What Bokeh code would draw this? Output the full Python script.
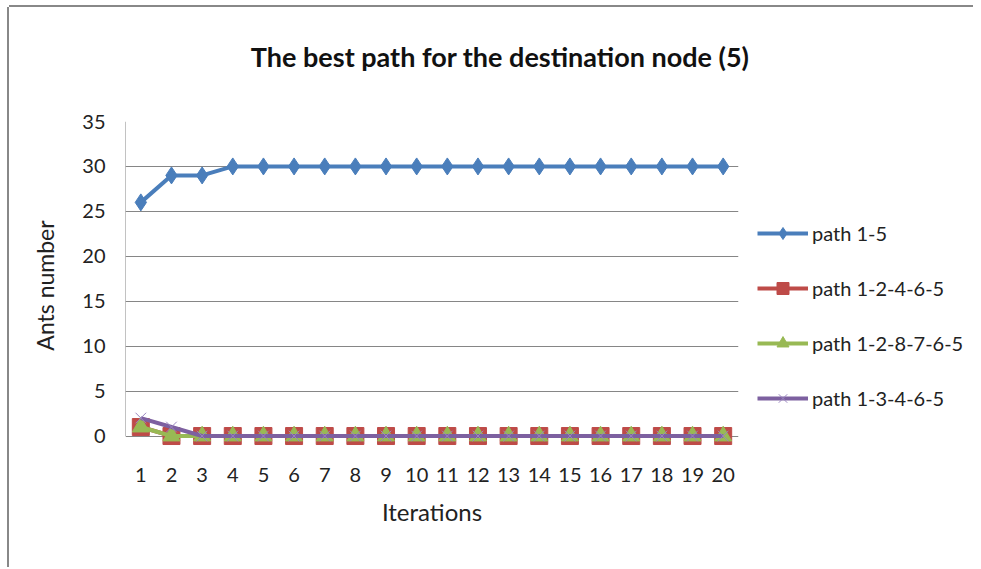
from bokeh.plotting import figure
from bokeh.layouts import column, row
from bokeh.models import FactorRange, Range1d, Legend, LegendItem, FixedTicker, Label
from bokeh.embed import file_html
from bokeh.resources import INLINE

iterations = [str(i) for i in range(1, 21)]
path_1_5 = [26, 29, 29] + [30] * 17
path_1_2_4_6_5 = [1] + [0] * 19
path_1_2_8_7_6_5 = [1] + [0] * 19
path_1_3_4_6_5 = [2, 1] + [0] * 18
series_names = ["path 1-5", "path 1-2-4-6-5", "path 1-2-8-7-6-5", "path 1-3-4-6-5"]
y_ticks = [0, 5, 10, 15, 20, 25, 30, 35]
title_text = "The  best path for the destination node (5)"

FONT = "Lato"
TITLE_H = 81
CHART_W, CHART_H = 744, 479
LEG_W = 220

colors = ["#4A7EBB", "#BE4B48", "#98B954", "#7D60A0"]
data = [path_1_5, path_1_2_4_6_5, path_1_2_8_7_6_5, path_1_3_4_6_5]
markers = ["diamond", "square", "triangle", "x"]
sizes = [17, 17, 17, 15]

# ---- title strip
tf = figure(width=CHART_W + LEG_W, height=TITLE_H, output_backend="svg", toolbar_location=None,
            x_axis_location=None, y_axis_location=None,
            x_range=Range1d(0, 1), y_range=Range1d(0, 1),
            min_border=0, min_border_left=0, min_border_right=0, min_border_top=0, min_border_bottom=0)
tf.outline_line_color = None
tf.grid.grid_line_color = None
tf.add_layout(Label(x=494, y=32, x_units="screen", y_units="screen",
                    text=title_text, text_align="center", text_baseline="middle",
                    text_font=FONT, text_font_size="27px", text_font_style="bold",
                    text_color="#111111"))

# ---- chart
p = figure(width=CHART_W, height=CHART_H, output_backend="svg", toolbar_location=None,
           x_range=FactorRange(factors=iterations, range_padding=0),
           y_range=Range1d(-1.5, 35),
           min_border_left=116, min_border_right=15, min_border_top=33, min_border_bottom=118)
p.outline_line_color = None
p.xgrid.grid_line_color = None
p.ygrid.grid_line_color = "#868686"
p.ygrid.grid_line_width = 1
p.yaxis.ticker = FixedTicker(ticks=y_ticks)

for ax in (p.xaxis[0], p.yaxis[0]):
    ax.major_tick_line_color = None
    ax.minor_tick_line_color = None
    ax.axis_line_color = None
    ax.major_label_text_font = FONT
    ax.major_label_text_font_size = "20px"
    ax.major_label_text_color = "#222222"
    ax.axis_label_text_font = FONT
    ax.axis_label_text_font_size = "24px"
    ax.axis_label_text_font_style = "normal"
    ax.axis_label_text_color = "#222222"
p.yaxis.axis_label_text_font_size = "23px"

p.yaxis.major_label_standoff = 14
p.xaxis.major_label_standoff = 12
p.xaxis.axis_label = "Iterations"
p.yaxis.axis_label = "Ants number"
p.xaxis.axis_label_standoff = 12
p.yaxis.axis_label_standoff = 20

# left axis line from 0 to the top of the scale
p.segment(x0=[0], y0=[0], x1=[0], y1=[y_ticks[-1]], line_color="#868686", line_width=1)

def draw(fig, ys, c, m, s):
    ln = fig.line(iterations, ys, line_color=c, line_width=4)
    if m == "x":
        sc = fig.scatter(iterations, ys, marker=m, size=s, line_color="#9a86c0", line_width=1)
    else:
        sc = fig.scatter(iterations, ys, marker=m, size=s, fill_color=c, line_color=c)
    return ln, sc

for ys, c, m, s in zip(data, colors, markers, sizes):
    draw(p, ys, c, m, s)

# ---- legend panel
lf = figure(width=LEG_W, height=CHART_H, output_backend="svg", toolbar_location=None,
            x_axis_location=None, y_axis_location=None,
            x_range=FactorRange(factors=iterations), y_range=Range1d(1000, 1001),
            min_border=0, min_border_left=0, min_border_right=0, min_border_top=0, min_border_bottom=0)
lf.outline_line_color = None
lf.grid.grid_line_color = None
items = []
for name, ys, c, m, s in zip(series_names, data, colors, markers, sizes):
    ln, sc = draw(lf, ys, c, m, s)
    items.append(LegendItem(label=name, renderers=[ln, sc]))

legend = Legend(items=items, location=(4, 36), orientation="vertical",
                glyph_width=51, glyph_height=30, label_height=20, spacing=25,
                label_standoff=4, padding=0, margin=0,
                border_line_color=None, background_fill_alpha=0,
                label_text_font=FONT, label_text_font_size="20px",
                label_text_color="#222222")
lf.add_layout(legend, "center")

layout = column(tf, row(p, lf), margin=(7, 0, 0, 9),
                styles={"box-shadow": "0 -2px 0 0 #888888, -2px 0 0 0 #888888"})
open("out.html", "w").write(file_html(layout, INLINE))
